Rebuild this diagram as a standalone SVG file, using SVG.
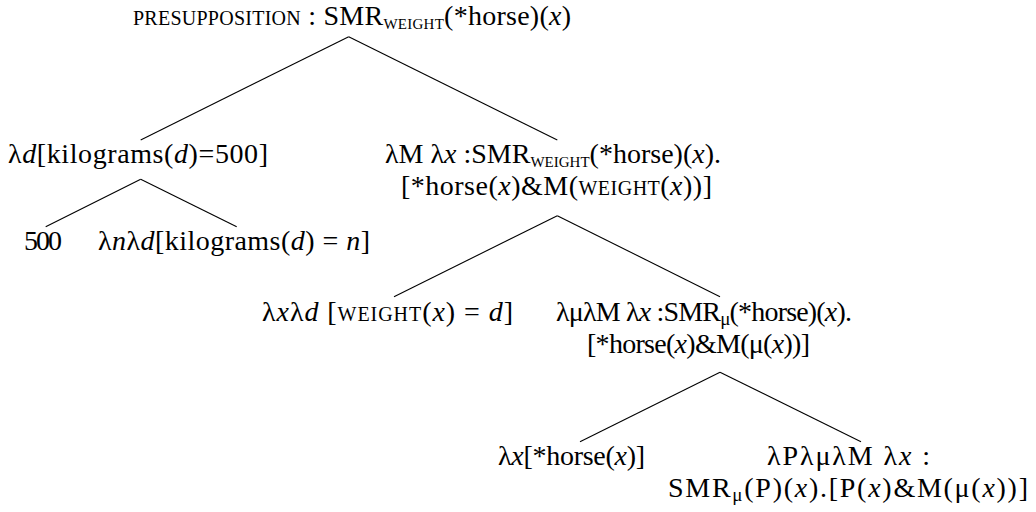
<svg xmlns="http://www.w3.org/2000/svg" width="1036" height="512" viewBox="0 0 1036 512">
<style>
text{font-family:"Liberation Serif","Times New Roman",Times,serif;font-size:28px;fill:#000}
.sc{font-size:20px}
.sub{font-size:15px}
.subg{font-size:19px}
.i{font-style:italic}
.edge line{stroke:#000;stroke-width:1.1}
</style>
<rect width="1036" height="512" fill="#fff"/>
<g id="edges" class="edge">
<line x1="348.7" y1="36.7" x2="140.7" y2="140"/>
<line x1="348.7" y1="36.7" x2="557.3" y2="140"/>
<line x1="140.7" y1="179.3" x2="45.7" y2="226.7"/>
<line x1="140.7" y1="179.3" x2="236.7" y2="226.7"/>
<line x1="557.3" y1="215.7" x2="394" y2="296.7"/>
<line x1="557.3" y1="215.7" x2="720" y2="296.7"/>
<line x1="720" y1="372.3" x2="580" y2="441.7"/>
<line x1="720" y1="372.3" x2="861" y2="441.7"/>
</g>
<g id="root">
<text x="133" y="25" textLength="438" lengthAdjust="spacing"><tspan class="sc">PRESUPPOSITION</tspan> : SMR<tspan class="sub" dy="4">WEIGHT</tspan><tspan dy="-4">(*horse)(</tspan><tspan class="i">x</tspan>)</text>
</g>
<g id="n-kg500">
<text x="8" y="163" textLength="260" lengthAdjust="spacing">λ<tspan class="i">d</tspan>[kilograms(<tspan class="i">d</tspan>)=500]</text>
</g>
<g id="n-lamM">
<text x="385" y="163" textLength="336" lengthAdjust="spacing">λM λ<tspan class="i">x</tspan> :SMR<tspan class="sub" dy="4">WEIGHT</tspan><tspan dy="-4">(*horse)(</tspan><tspan class="i">x</tspan>).</text>
<text x="401" y="195" textLength="311" lengthAdjust="spacing">[*horse(<tspan class="i">x</tspan>)&amp;M(<tspan class="sc">WEIGHT</tspan>(<tspan class="i">x</tspan>))]</text>
</g>
<g id="n-500">
<text x="24" y="250" textLength="38" lengthAdjust="spacing">500</text>
</g>
<g id="n-lamn">
<text x="98" y="250" textLength="272" lengthAdjust="spacing">λ<tspan class="i">n</tspan>λ<tspan class="i">d</tspan>[kilograms(<tspan class="i">d</tspan>) = <tspan class="i">n</tspan>]</text>
</g>
<g id="n-weight">
<text x="262" y="321" textLength="251" lengthAdjust="spacing">λ<tspan class="i">x</tspan>λ<tspan class="i">d</tspan> [<tspan class="sc">WEIGHT</tspan>(<tspan class="i">x</tspan>) = <tspan class="i">d</tspan>]</text>
</g>
<g id="n-lammu">
<text x="556" y="321" textLength="296" lengthAdjust="spacing">λμλM λ<tspan class="i">x</tspan> :SMR<tspan class="subg" dy="4">μ</tspan><tspan dy="-4">(*horse)(</tspan><tspan class="i">x</tspan>).</text>
<text x="587" y="353" textLength="223" lengthAdjust="spacing">[*horse(<tspan class="i">x</tspan>)&amp;M(μ(<tspan class="i">x</tspan>))]</text>
</g>
<g id="n-horse">
<text x="498" y="465" textLength="147" lengthAdjust="spacing">λ<tspan class="i">x</tspan>[*horse(<tspan class="i">x</tspan>)]</text>
</g>
<g id="n-lamP">
<text x="767" y="465" textLength="163" lengthAdjust="spacing">λPλμλM λ<tspan class="i">x</tspan> :</text>
<text x="668" y="497" textLength="360" lengthAdjust="spacing">SMR<tspan class="subg" dy="4">μ</tspan><tspan dy="-4">(P)(</tspan><tspan class="i">x</tspan>).[P(<tspan class="i">x</tspan>)&amp;M(μ(<tspan class="i">x</tspan>))]</text>
</g>
</svg>
